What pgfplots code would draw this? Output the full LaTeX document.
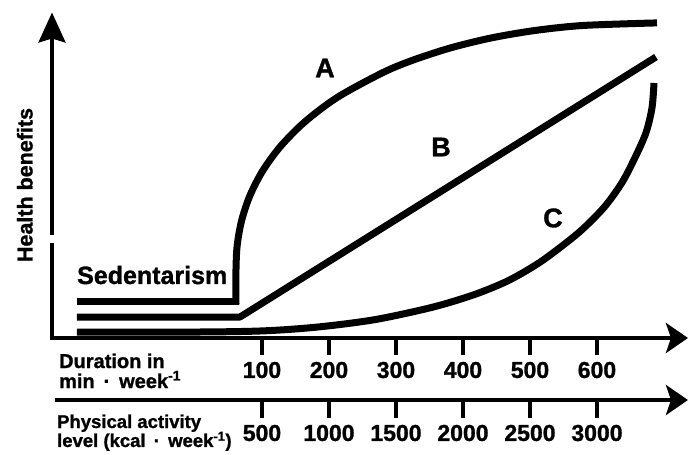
\documentclass[border=0pt]{standalone}
\usepackage{fontspec}
\setmainfont{Liberation Sans}[BoldFeatures={FakeBold=1.2}]
\usepackage{pgfplots}
\pgfplotsset{compat=1.18}
\usetikzlibrary{arrows.meta}

% x in min/week, y in arbitrary benefit units
\tikzset{
  curve/.style={black, line width=7pt, line join=round},
  axln/.style={black, line width=4pt},
  tk/.style={black, line width=3.5pt},
  lbl/.style={inner sep=0pt, font=\fontsize{23}{23}\selectfont\bfseries},
  side/.style={inner sep=0pt, anchor=base west, font=\fontsize{20}{20}\selectfont\bfseries},
  side2/.style={inner sep=0pt, anchor=base west, font=\fontsize{18.5}{18.5}\selectfont\bfseries},
  bigarr/.style={-{Stealth[length=22pt,width=30pt,inset=5pt]}},
}

\begin{document}
\begin{tikzpicture}
\useasboundingbox (0,0) rectangle (688pt,455pt);
\begin{axis}[
  at={(52pt,117pt)}, anchor=south west,
  x=0.67pt, y=3pt,
  xmin=-213.4, xmax=735.8, ymin=0, ymax=107.7,
  hide axis, clip=false,
]
% A
\addplot[curve, sharp plot, line cap=rect] coordinates {(-171,12.33) (61.2,12.33)};
\addplot[curve, smooth, line cap=rect] coordinates {
 (61.2,12.33) (61.2,22.67) (63.0,30.9) (69.6,39.13) (81.8,47.37) (100.7,55.6)
 (127.5,63.83) (164.0,72.07) (213.1,80.3) (281.0,88.53) (325.7,92.65)
 (382.5,96.77) (443.3,100.07) (508.4,102.53) (579.0,104.17) (684.3,105)
};
% B
\addplot[curve, sharp plot] coordinates {(-176.1,7) (67.2,7) (688.1,93.67)};
% C
\addplot[curve, smooth] coordinates {
 (-176.1,2) (7.5,2) (104.5,2.4) (183.6,3.67) (268.7,6.13) (355.2,10.3)
 (416.4,14.43) (462.7,18.6) (497.0,22.75) (525.4,26.9) (573.1,35.2) (610.4,43.5)
 (637.3,51.8) (656.7,60.1) (673.1,68.4) (682.1,76.7) (685.1,85)
};

% axes
\draw[tk] (axis cs:-213.4,-0.6) -- (axis cs:-213.4,31.67);
\draw[tk, -{Stealth[length=30pt,width=27pt,inset=4pt]}] (axis cs:-213.4,34.33) -- (axis cs:-213.4,108.5);
\draw[axln, bigarr] (axis cs:-216,0) -- (axis cs:735.8,0);
\draw[axln, bigarr] (axis cs:-209,-20.67) -- (axis cs:735.8,-20.67);

% minutes scale
\draw[tk] (axis cs:100,0) -- (axis cs:100,-5.67);
\draw[tk] (axis cs:200,0) -- (axis cs:200,-5.67);
\draw[tk] (axis cs:300,0) -- (axis cs:300,-5.67);
\draw[tk] (axis cs:400,0) -- (axis cs:400,-5.67);
\draw[tk] (axis cs:500,0) -- (axis cs:500,-5.67);
\draw[tk] (axis cs:600,0) -- (axis cs:600,-5.67);
\node[lbl] at (axis cs:100,-10.67) {100};
\node[lbl] at (axis cs:200,-10.67) {200};
\node[lbl] at (axis cs:300,-10.67) {300};
\node[lbl] at (axis cs:400,-10.67) {400};
\node[lbl] at (axis cs:500,-10.67) {500};
\node[lbl] at (axis cs:600,-10.67) {600};

% kcal scale (kcal = 5 x min)
\draw[tk] (axis cs:100,-20.67) -- (axis cs:100,-26.67);
\draw[tk] (axis cs:200,-20.67) -- (axis cs:200,-26.67);
\draw[tk] (axis cs:300,-20.67) -- (axis cs:300,-26.67);
\draw[tk] (axis cs:400,-20.67) -- (axis cs:400,-26.67);
\draw[tk] (axis cs:500,-20.67) -- (axis cs:500,-26.67);
\draw[tk] (axis cs:600,-20.67) -- (axis cs:600,-26.67);
\node[lbl] at (axis cs:100,-31.67) {500};
\node[lbl] at (axis cs:200,-31.67) {1000};
\node[lbl] at (axis cs:300,-31.67) {1500};
\node[lbl] at (axis cs:400,-31.67) {2000};
\node[lbl] at (axis cs:500,-31.67) {2500};
\node[lbl] at (axis cs:600,-31.67) {3000};

% texts
\node[side] at (axis cs:-203,-10) {Duration in};
\node[side] at (axis cs:-203,-16.67) {min \,·\, week\textsuperscript{-1}};
\node[side2] at (axis cs:-206,-30) {Physical activity};
\node[side2] at (axis cs:-206,-36.33) {level (kcal \,·\, week\textsuperscript{-1})};
\node[inner sep=0pt, anchor=base west, font=\fontsize{25}{25}\selectfont\bfseries] at (axis cs:-176.1,18) {Sedentarism};
\node[inner sep=0pt, font=\fontsize{27}{27}\selectfont\bfseries] at (axis cs:194,90) {A};
\node[inner sep=0pt, font=\fontsize{27}{27}\selectfont\bfseries] at (axis cs:367.2,63.67) {B};
\node[inner sep=0pt, font=\fontsize{27}{27}\selectfont\bfseries] at (axis cs:534.3,40) {C};
\node[inner sep=0pt, rotate=90, font=\fontsize{21.5}{21.5}\selectfont\bfseries] at (axis cs:-254,51) {Health benefits};
\end{axis}
\end{tikzpicture}
\end{document}
